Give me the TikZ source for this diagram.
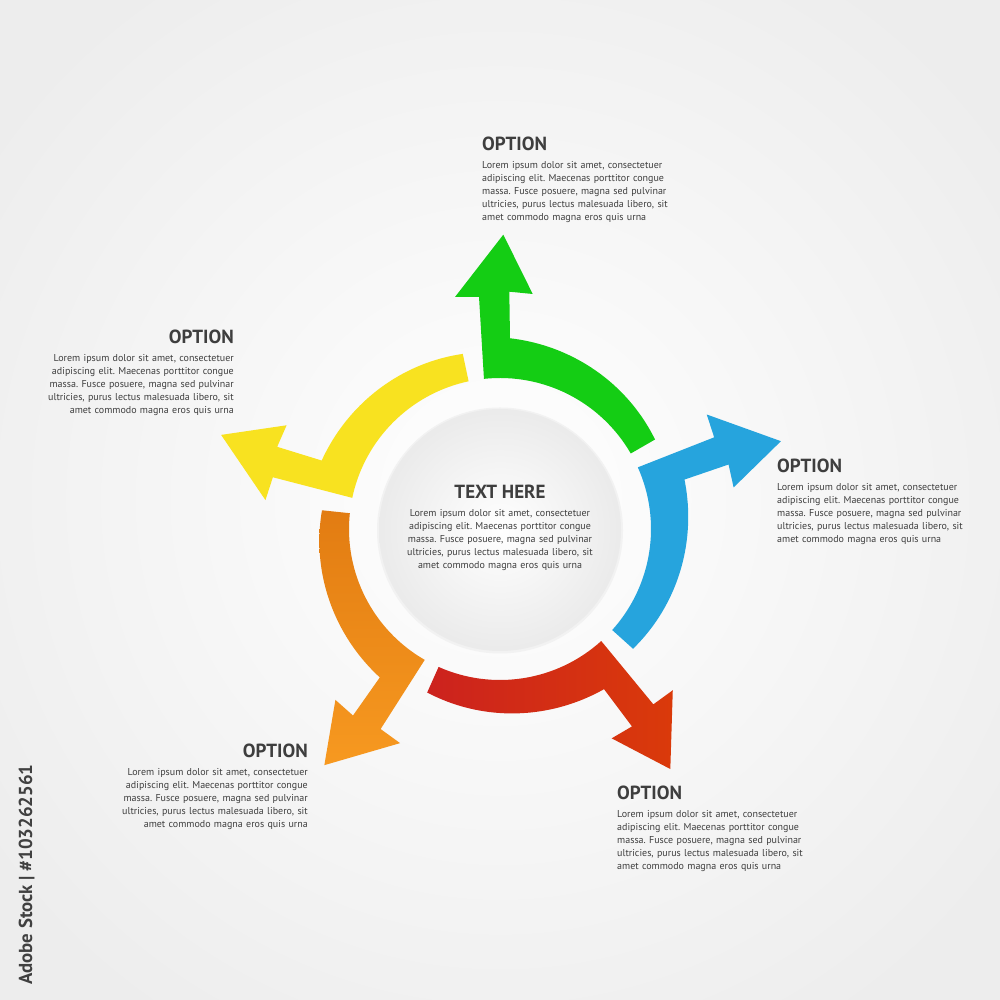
\documentclass[tikz,border=0pt]{standalone}
\usepackage{fontspec}
\setmainfont{PT Sans}
\definecolor{cgreen}{RGB}{20,205,20}
\definecolor{cblue}{RGB}{38,164,221}
\definecolor{credA}{RGB}{204,34,30}
\definecolor{credB}{RGB}{218,58,10}
\definecolor{corangeA}{RGB}{226,124,18}
\definecolor{corangeB}{RGB}{247,153,32}
\definecolor{cyellow}{RGB}{248,226,32}
\definecolor{txt}{RGB}{62,62,62}
\newcommand\armseg[3]{%
  \begin{scope}[shift={(500,471)}, rotate=#1]
    \path[#2] (30:151) -- (30:179)
      -- plot[domain=30:87, samples=40] (\x:{179+(\x-30)*12/57})
      -- (9.3,237.3) -- (32.7,235) -- (3.3,294.3) -- (-45,232) -- (-21,232)
      -- (96.1:151) arc[start angle=96.1, end angle=30, radius=151] -- cycle;
    \coordinate (#3) at (0,0);
  \end{scope}}
\tikzset{
  ttl/.style={font=\fontsize{19}{19}\selectfont\bfseries, text=txt, inner sep=0pt},
  body/.style={font=\fontsize{10}{12.8}\selectfont, text=txt, inner sep=0pt, text width=230pt},
}
\newcommand\lorem{Lorem ipsum dolor sit amet, consectetuer\\adipiscing elit. Maecenas porttitor congue\\massa. Fusce posuere, magna sed pulvinar\\ultricies, purus lectus malesuada libero, sit\\amet commodo magna eros quis urna}
\frenchspacing
\begin{document}
\begin{tikzpicture}[x=1pt,y=1pt]
\useasboundingbox (0,0) rectangle (1000,1000);
\shade[inner color=white, outer color=black!7] (-120,-120) rectangle (1120,1120);
% arms
\armseg{0}{fill=cgreen}{sg}
\armseg{-72}{fill=cblue}{sb}
\armseg{-144}{left color=credA, right color=credB}{sr}
\armseg{144}{top color=corangeA, bottom color=corangeB}{so}
\armseg{72}{fill=cyellow}{sy}
% centre circle
\fill[black!5] (500,469.5) circle[radius=123];
\shade[inner color=white, outer color=black!8] (500,470) circle[radius=121];
% centre text
\node[ttl, anchor=base] (ct) at (500,1000-499) {TEXT HERE};
\node[body, align=center, anchor=base] (cb) at (500,1000-517) {\lorem};
% top
\node[ttl, anchor=base west] (t1) at (482,1000-151) {OPTION};
\node[body, align=left, anchor=base west] (b1) at (482,1000-169) {\lorem};
% right
\node[ttl, anchor=base west] (t2) at (777,1000-473) {OPTION};
\node[body, align=left, anchor=base west] (b2) at (777,1000-491) {\lorem};
% bottom right
\node[ttl, anchor=base west] (t3) at (617,1000-800) {OPTION};
\node[body, align=left, anchor=base west] (b3) at (617,1000-818) {\lorem};
% bottom left
\node[ttl, anchor=base east] (t4) at (308,1000-758) {OPTION};
\node[body, align=right, anchor=base east] (b4) at (308,1000-776) {\lorem};
% left
\node[ttl, anchor=base east] (t5) at (234,1000-344) {OPTION};
\node[body, align=right, anchor=base east] (b5) at (234,1000-362) {\lorem};
% side mark
\node[rotate=90, anchor=base west, inner sep=0pt, text=black!75,
  font=\fontsize{18.8}{18.8}\selectfont\bfseries] (wm) at (32,15) {Adobe Stock | \#103262561};
\end{tikzpicture}
\end{document}
